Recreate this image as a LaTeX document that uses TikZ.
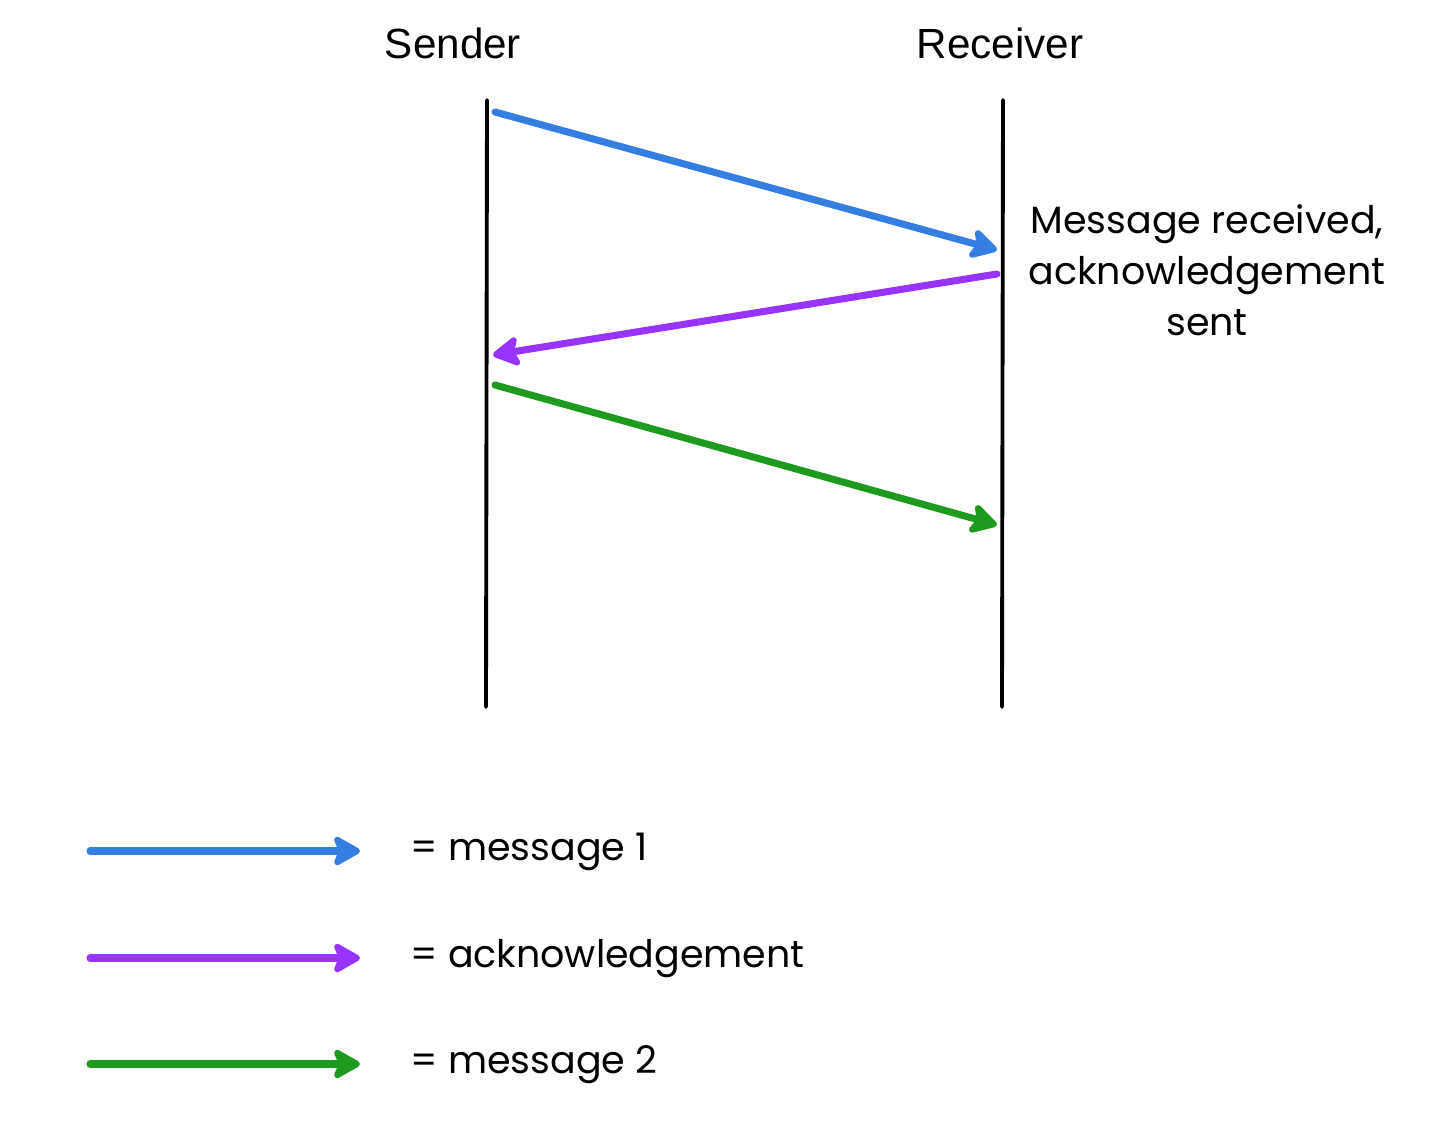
\documentclass[tikz,border=0pt]{standalone}
\usepackage{fontspec}
\setmainfont{Poppins}
\newfontfamily\headfont{Liberation Sans}
\usetikzlibrary{arrows.meta}
\definecolor{msgblue}{RGB}{52,125,225}
\definecolor{ackpurple}{RGB}{153,51,255}
\definecolor{msggreen}{RGB}{30,154,30}
\begin{document}
\begin{tikzpicture}[x=0.01cm,y=-0.01cm,line cap=round]
        % Styles
        \tikzstyle{lifeline}=[line width=1.1pt,black]
        \tikzstyle{signal}=[line width=2pt,-{Stealth[round,length=9pt,width=10pt,inset=2pt]}]
        \tikzstyle{head text}=[font=\headfont\fontsize{12}{14}\selectfont]
        \tikzstyle{body text}=[font=\fontsize{10.8}{14.5}\selectfont]
        \useasboundingbox (0,0) rectangle (1444,1124);
        %heads
        \node[style=head text] (sender) at (453,43) {Sender};
        \node[style=head text] (receiver) at (1000,43) {Receiver};
        %lifelines
        \coordinate (s top) at (487,100);
        \coordinate (s bot) at (486,707);
        \coordinate (r top) at (1003,100);
        \coordinate (r bot) at (1002,707);
        \draw[style=lifeline] (s top) -- (s bot);
        \draw[style=lifeline] (r top) -- (r bot);
        %messages
        \coordinate (m1 out) at (495,112);
        \coordinate (m1 in) at (997,250);
        \coordinate (ack out) at (997,274);
        \coordinate (ack in) at (493,355);
        \coordinate (m2 out) at (495,385);
        \coordinate (m2 in) at (997,525);
        \draw[style=signal,msgblue] (m1 out) -- (m1 in);
        \draw[style=signal,ackpurple] (ack out) -- (ack in);
        \draw[style=signal,msggreen] (m2 out) -- (m2 in);
        \node[style=body text,align=center] (note) at (1207,270) {Message received,\\acknowledgement\\sent};
        %legend
        \foreach \name/\col/\y/\txt in {one/msgblue/851/message 1,ack/ackpurple/958/acknowledgement,two/msggreen/1064/message 2}
        {
            \coordinate (key \name) at (90,\y);
            \coordinate (tip \name) at (360,\y);
            \draw[style=signal,\col] (key \name) -- (tip \name);
            \node[style=body text,anchor=west] (label \name) at (398,\y+1) {= \txt};
        }
    \end{tikzpicture}
\end{document}
